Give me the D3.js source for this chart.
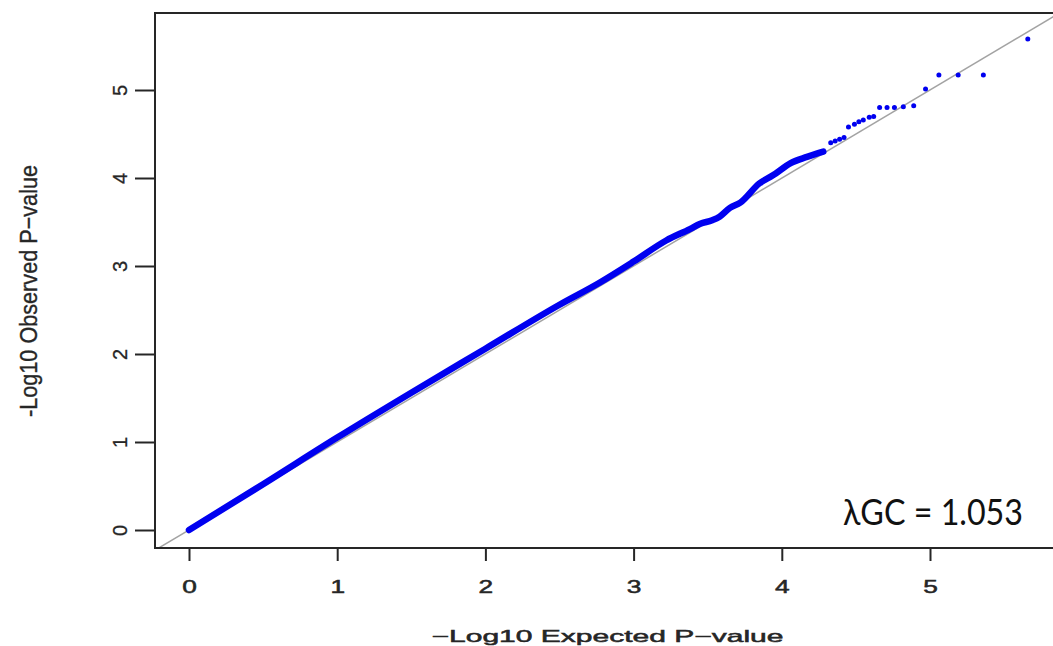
<!DOCTYPE html>
<html>
<head>
<meta charset="utf-8">
<script src="https://cdn.jsdelivr.net/npm/d3@7"></script>
<style>
  html, body { margin: 0; padding: 0; background: #fff; }
  svg { display: block; }
</style>
</head>
<body>
<svg id="chart" width="1053" height="646"></svg>
<script>
// Axis ticks
const xTicks = [0, 1, 2, 3, 4, 5];
const yTicks = [0, 1, 2, 3, 4, 5];

// Dense body of the QQ curve (-log10 expected vs observed)
const bodyExpected = [0.00, 0.50, 1.00, 1.50, 2.00, 2.50, 2.77, 3.00, 3.22, 3.38, 3.45, 3.53, 3.58, 3.65, 3.72, 3.85, 3.94, 4.06, 4.17, 4.28];
const bodyObserved = [0.00, 0.52, 1.05, 1.56, 2.06, 2.56, 2.81, 3.05, 3.29, 3.42, 3.48, 3.52, 3.56, 3.66, 3.72, 3.94, 4.03, 4.17, 4.24, 4.30];

// Sparse tail of the most significant SNPs
const tailExpected = [4.33, 4.36, 4.39, 4.42, 4.45, 4.49, 4.52, 4.55, 4.59, 4.62, 4.66, 4.71, 4.76, 4.82, 4.89, 4.97, 5.06, 5.19, 5.36, 5.66];
const tailObserved = [4.40, 4.42, 4.44, 4.46, 4.58, 4.61, 4.64, 4.66, 4.69, 4.70, 4.80, 4.80, 4.80, 4.81, 4.82, 5.01, 5.17, 5.17, 5.17, 5.58];

const lambdaGC = 1.053;

const svg = d3.select("#chart");
const W = 1053, H = 646;

// Plot box edges (right side runs past the canvas)
const box = { left: 155, top: 13, bottom: 548, right: 1062 };

const x = d3.scaleLinear().domain([0, 5]).range([189, 930]);
const y = d3.scaleLinear().domain([0, 5]).range([530, 90]);

const ink = "#262626";
const font = "'Liberation Sans', Arial, sans-serif";

svg.append("rect").attr("width", W).attr("height", H).attr("fill", "#fff");

svg.append("defs").append("clipPath").attr("id", "plotclip")
  .append("rect")
  .attr("x", box.left).attr("y", box.top)
  .attr("width", box.right - box.left).attr("height", box.bottom - box.top);

const plot = svg.append("g").attr("clip-path", "url(#plotclip)");

// Null expectation y = x
const xDom = [x.invert(box.left), x.invert(box.right)];
plot.append("line")
  .attr("x1", x(xDom[0])).attr("y1", y(xDom[0]))
  .attr("x2", x(xDom[1])).attr("y2", y(xDom[1]))
  .attr("stroke", "#a3a3a3").attr("stroke-width", 1.5);

// Dense body drawn as a thick band of overlapping points
const body = bodyExpected.map((e, i) => [e, bodyObserved[i]]);
plot.append("path")
  .datum(body)
  .attr("d", d3.line().x(d => x(d[0])).y(d => y(d[1])).curve(d3.curveMonotoneX))
  .attr("fill", "none")
  .attr("stroke", "#0000f0")
  .attr("stroke-width", 6.5)
  .attr("stroke-linecap", "round")
  .attr("stroke-linejoin", "round");

// Tail points
const tail = tailExpected.map((e, i) => [e, tailObserved[i]]);
plot.selectAll("circle.tail")
  .data(tail)
  .join("circle")
  .attr("class", "tail")
  .attr("cx", d => x(d[0]))
  .attr("cy", d => y(d[1]))
  .attr("r", 2.5)
  .attr("fill", "#0000f0");

// Plot box
svg.append("rect")
  .attr("x", box.left).attr("y", box.top)
  .attr("width", box.right - box.left).attr("height", box.bottom - box.top)
  .attr("fill", "none").attr("stroke", ink).attr("stroke-width", 2);

// X axis
const xAxis = svg.append("g")
  .attr("transform", `translate(0,${box.bottom})`)
  .call(d3.axisBottom(x).tickValues(xTicks).tickSize(13).tickPadding(0).tickFormat(d3.format("d")));
xAxis.select(".domain").remove();
xAxis.selectAll(".tick line").attr("stroke", ink).attr("stroke-width", 2);
xAxis.selectAll(".tick text")
  .attr("y", 45).attr("dy", 0)
  .attr("fill", ink)
  .attr("stroke", ink).attr("stroke-width", 0.5)
  .attr("font-family", font)
  .attr("font-size", 17.5)
  .attr("transform", "scale(1.5,1)");

// Y axis (labels parallel to the axis)
const yAxis = svg.append("g")
  .attr("transform", `translate(${box.left},0)`)
  .call(d3.axisLeft(y).tickValues(yTicks).tickSize(20).tickFormat(d3.format("d")));
yAxis.select(".domain").remove();
yAxis.selectAll(".tick line").attr("stroke", ink).attr("stroke-width", 2);
yAxis.selectAll(".tick text")
  .attr("x", null).attr("dy", null)
  .attr("text-anchor", "middle")
  .attr("fill", ink)
  .attr("stroke", ink).attr("stroke-width", 0.3)
  .attr("font-family", font)
  .attr("font-size", 20)
  .attr("transform", "translate(-28,0) scale(1.0,1) rotate(-90)");

// Axis titles
svg.append("text")
  .attr("x", 607.5).attr("y", 641.5)
  .attr("text-anchor", "middle")
  .attr("fill", ink)
  .attr("stroke", ink).attr("stroke-width", 0.5)
  .attr("font-family", font)
  .attr("font-size", 16.5)
  .attr("textLength", 352)
  .attr("lengthAdjust", "spacingAndGlyphs")
  .text("\u2212Log10 Expected P\u2212value");

svg.append("text")
  .attr("transform", "translate(36.5,291) scale(1.46,1) rotate(-90)")
  .attr("text-anchor", "middle")
  .attr("fill", ink)
  .attr("stroke", ink).attr("stroke-width", 0.25)
  .attr("font-family", font)
  .attr("font-size", 17)
  .attr("textLength", 252)
  .attr("lengthAdjust", "spacingAndGlyphs")
  .text("-Log10 Observed P\u2212value");

// Genomic inflation factor
svg.append("text")
  .attr("x", 843).attr("y", 525)
  .attr("fill", "#111")
  .attr("font-family", "Lato, 'Noto Sans', sans-serif")
  .attr("font-size", 37)
  .attr("textLength", 180)
  .attr("lengthAdjust", "spacingAndGlyphs")
  .text(`\u03BBGC = ${lambdaGC.toFixed(3)}`);
</script>
</body>
</html>
